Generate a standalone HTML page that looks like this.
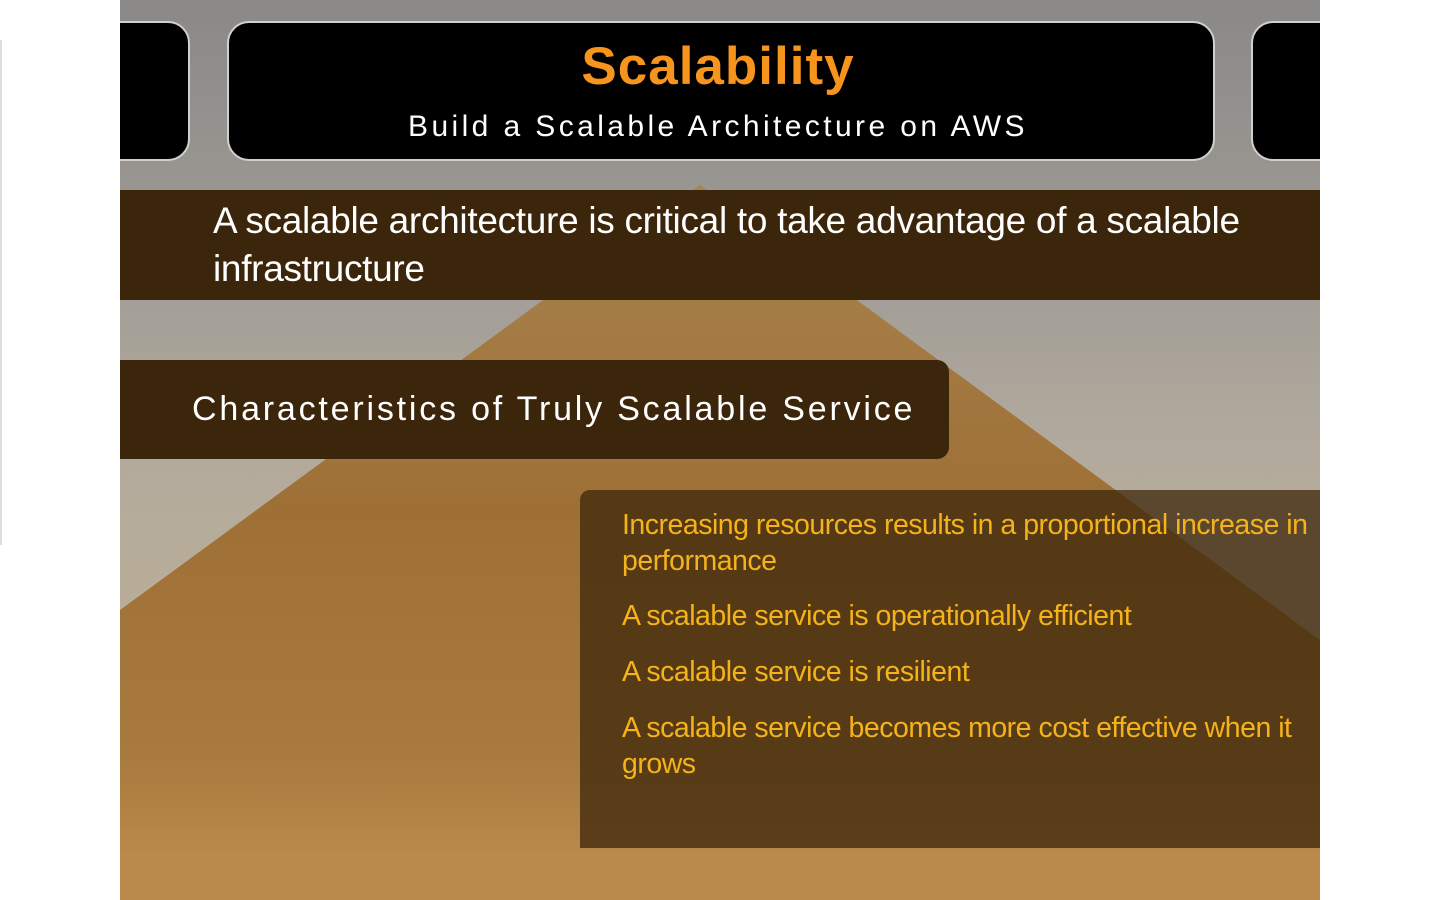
<!DOCTYPE html>
<html><head><meta charset="utf-8"><style>
body{margin:0;width:1440px;height:900px;background:#fff;position:relative;overflow:hidden;font-family:"Liberation Sans",sans-serif}
.slide{position:absolute;left:120px;top:0;width:1200px;height:900px;overflow:hidden;background:linear-gradient(#8a8987 0%,#a09c96 30%,#b2aa9d 50%,#b8ad98 65%)}
.box{position:absolute;background:#000;border:2px solid #d0d0d0;border-radius:22px;top:21px;height:136px}
.abs{position:absolute;white-space:nowrap}
.b{position:absolute;white-space:nowrap;left:502px;font-size:28.5px;line-height:36px;color:#f4b31a;letter-spacing:-0.5px}
</style></head><body>
<div style="position:absolute;left:0;top:40px;width:2px;height:505px;background:#ddd"></div>
<div class="slide">
<svg width="1200" height="900" style="position:absolute;left:0;top:0">
<defs>
<linearGradient id="p" x1="0" y1="0" x2="0" y2="1">
<stop offset="0" stop-color="#a8844f"/><stop offset="0.45" stop-color="#9e7036"/><stop offset="0.8" stop-color="#a97a3e"/><stop offset="1" stop-color="#c09050"/></linearGradient>
</defs>
<polygon points="580,185 0,610 0,900 1200,900 1200,640" fill="url(#p)"/>
<rect x="0" y="850" width="1200" height="50" fill="#b98a4c"/>
</svg>
<div class="box" style="left:-30px;width:96px"></div>
<div class="box" style="left:107px;width:984px"></div>
<div class="box" style="left:1131px;width:120px"></div>
<div class="abs" style="left:0;width:1196px;text-align:center;top:36px;font-size:53px;font-weight:bold;color:#f7941d;letter-spacing:1px">Scalability</div>
<div class="abs" style="left:0;width:1196px;text-align:center;top:110px;font-size:30px;color:#fff;letter-spacing:3.4px">Build a Scalable Architecture on AWS</div>
<div style="position:absolute;left:0;top:190px;width:1200px;height:110px;background:#3b250b"></div>
<div class="abs" style="left:93px;top:197px;font-size:37px;line-height:48px;color:#fff;letter-spacing:-0.3px">A scalable architecture is critical to take advantage of a scalable<br>infrastructure</div>
<div style="position:absolute;left:0;top:360px;width:829px;height:99px;background:#3b250b;border-radius:0 12px 12px 0"></div>
<div class="abs" style="left:72px;top:390px;font-size:34px;color:#fff;letter-spacing:2.8px">Characteristics of Truly Scalable Service</div>
<div style="position:absolute;left:460px;top:490px;width:740px;height:358px;background:rgba(60,38,10,0.75);border-radius:10px 0 0 0"></div>
<div class="b" style="top:507px">Increasing resources results in a proportional increase in<br>performance</div>
<div class="b" style="top:598px">A scalable service is operationally efficient</div>
<div class="b" style="top:654px">A scalable service is resilient</div>
<div class="b" style="top:710px">A scalable service becomes more cost effective when it<br>grows</div>
</div>
</body></html>
